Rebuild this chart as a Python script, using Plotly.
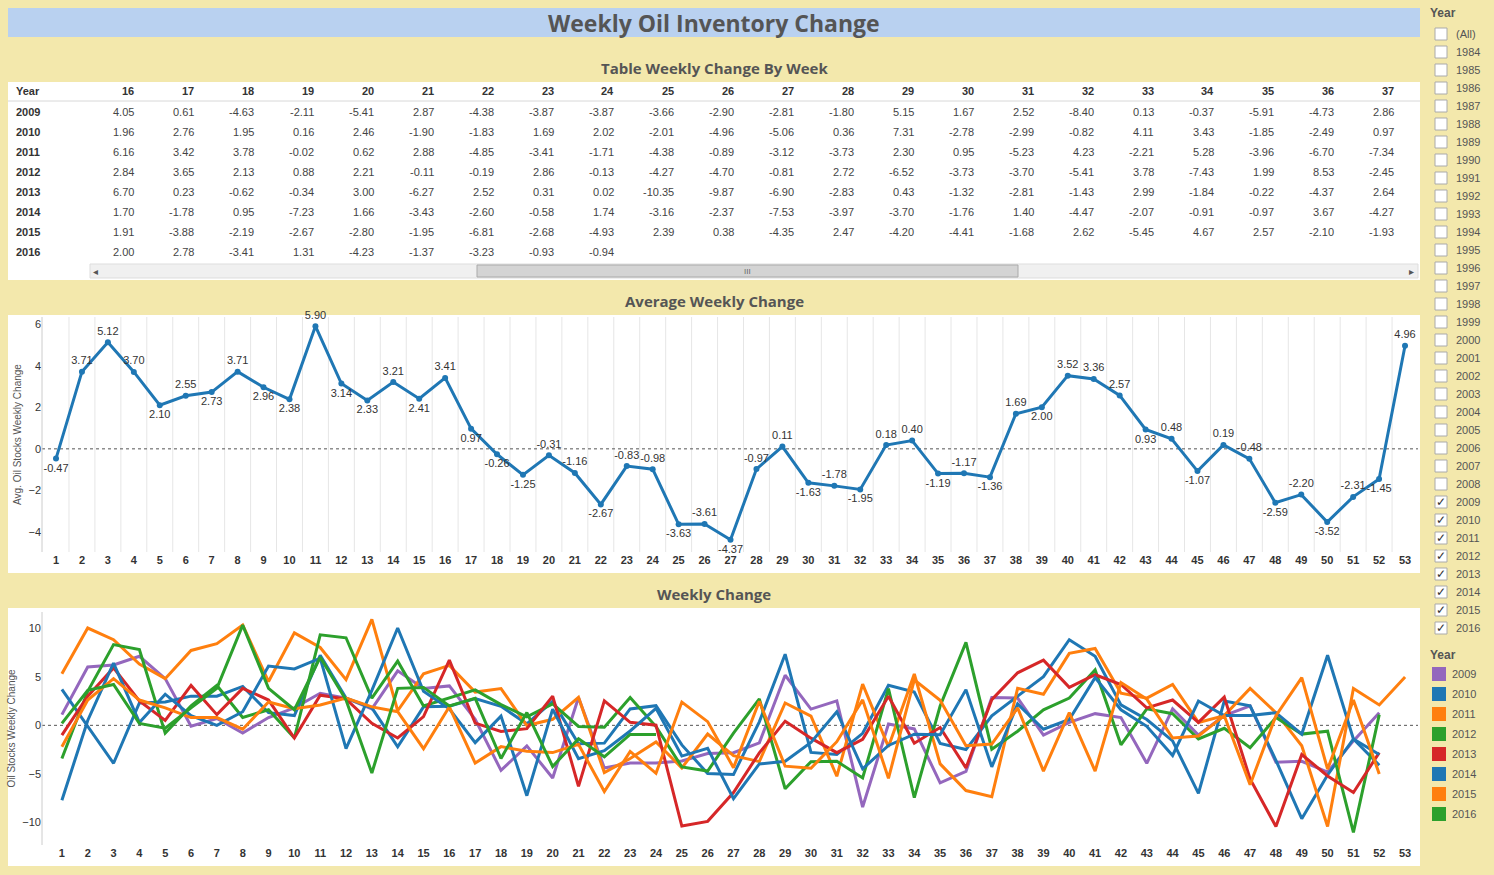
import plotly.graph_objects as go

W, H = 1494, 875
def px(x): return x / W
def py(y): return 1 - y / H

weeks = list(range(1, 54))
avg_change = [-0.47, 3.71, 5.12, 3.70, 2.10, 2.55, 2.73, 3.71, 2.96, 2.38, 5.90, 3.14, 2.33, 3.21, 2.41,
              3.41, 0.97, -0.26, -1.25, -0.31, -1.16, -2.67, -0.83, -0.98, -3.63, -3.61, -4.37, -0.97,
              0.11, -1.63, -1.78, -1.95, 0.18, 0.40, -1.19, -1.17, -1.36, 1.69, 2.00, 3.52, 3.36, 2.57,
              0.93, 0.48, -1.07, 0.19, -0.48, -2.59, -2.20, -3.52, -2.31, -1.45, 4.96]

years = ["2009", "2010", "2011", "2012", "2013", "2014", "2015", "2016"]
year_colors = ["#9467bd", "#1f77b4", "#ff7f0e", "#2ca02c", "#d62728", "#1f77b4", "#ff7f0e", "#2ca02c"]

table_weeks = list(range(16, 38))
table_rows = {
    "2009": [4.05, 0.61, -4.63, -2.11, -5.41, 2.87, -4.38, -3.87, -3.87, -3.66, -2.90, -2.81, -1.80, 5.15, 1.67, 2.52, -8.40, 0.13, -0.37, -5.91, -4.73, 2.86],
    "2010": [1.96, 2.76, 1.95, 0.16, 2.46, -1.90, -1.83, 1.69, 2.02, -2.01, -4.96, -5.06, 0.36, 7.31, -2.78, -2.99, -0.82, 4.11, 3.43, -1.85, -2.49, 0.97],
    "2011": [6.16, 3.42, 3.78, -0.02, 0.62, 2.88, -4.85, -3.41, -1.71, -4.38, -0.89, -3.12, -3.73, 2.30, 0.95, -5.23, 4.23, -2.21, 5.28, -3.96, -6.70, -7.34],
    "2012": [2.84, 3.65, 2.13, 0.88, 2.21, -0.11, -0.19, 2.86, -0.13, -4.27, -4.70, -0.81, 2.72, -6.52, -3.73, -3.70, -5.41, 3.78, -7.43, 1.99, 8.53, -2.45],
    "2013": [6.70, 0.23, -0.62, -0.34, 3.00, -6.27, 2.52, 0.31, 0.02, -10.35, -9.87, -6.90, -2.83, 0.43, -1.32, -2.81, -1.43, 2.99, -1.84, -0.22, -4.37, 2.64],
    "2014": [1.70, -1.78, 0.95, -7.23, 1.66, -3.43, -2.60, -0.58, 1.74, -3.16, -2.37, -7.53, -3.97, -3.70, -1.76, 1.40, -4.47, -2.07, -0.91, -0.97, 3.67, -4.27],
    "2015": [1.91, -3.88, -2.19, -2.67, -2.80, -1.95, -6.81, -2.68, -4.93, 2.39, 0.38, -4.35, 2.47, -4.20, -4.41, -1.68, 2.62, -5.45, 4.67, 2.57, -2.10, -1.93],
    "2016": [2.00, 2.78, -3.41, 1.31, -4.23, -1.37, -3.23, -0.93, -0.94],
}

# Weeks 1-15 estimates
early = {
    "2009": [1.1, 6.0, 6.2, 7.1, 4.8, -0.1, 0.7, -0.8, 0.8, 1.8, 3.3, 2.8, 1.7, 5.6, 3.8],
    "2010": [3.7, -0.1, -3.9, 2.3, 2.4, 3.0, 3.0, 4.0, 1.3, 1.0, 7.2, 2.8, 1.8, -2.2, 1.9],
    "2011": [5.3, 10.0, 8.8, 6.3, 4.8, 7.7, 8.4, 10.3, 4.5, 9.5, 8.0, 4.7, 10.9, 1.5, 5.3],
    "2012": [-3.4, 3.5, 8.3, 7.8, -0.8, 2.0, 4.1, 0.8, 1.6, -1.3, 9.3, 9.0, 2.8, 6.6, 2.0],
    "2013": [-1.0, 3.0, 5.9, 2.5, 0.5, 4.1, 1.1, 3.8, 2.6, -1.3, 3.1, 2.7, 0.2, -1.3, 0.9],
    "2014": [-7.7, 0.5, 6.4, 0.3, 3.2, 1.0, 0.0, 1.4, 6.1, 5.8, 6.9, -2.4, 3.6, 10.0, 3.5],
    "2015": [-2.2, 2.6, 4.8, 2.6, 1.8, 0.8, 0.8, -0.4, 2.4, 1.7, 2.1, 2.8, 1.9, 1.4, -2.4],
    "2016": [0.2, 3.6, 4.2, 0.2, -0.3, 1.8, 3.8, 10.3, 3.8, 1.6, 7.0, 2.6, -4.9, 3.8, 3.9],
}
# Weeks 38-53 estimates
late = {
    "2009": [2.8, -1.0, 0.3, 1.2, 0.8, -3.9, 1.7, -1.0, 1.0, 2.0, -3.8, -3.7, -4.8, -1.6, 1.3],
    "2010": [3.0, 5.0, 8.8, 7.1, 2.1, 0.6, -1.6, -7.0, 2.5, 2.0, -3.6, -9.6, -5.1, -1.4, -4.1],
    "2011": [3.8, 3.2, 7.4, 7.9, 3.3, 2.8, 4.2, 0.3, 1.0, 3.8, 1.3, -2.1, -10.4, 3.8, 2.1, 4.96],
    "2012": [-0.6, 1.6, 2.8, 5.7, -2.0, 1.7, 1.2, -1.4, -0.3, -2.3, 0.8, -0.9, -0.6, -11.0, 1.1],
    "2013": [5.4, 6.7, 3.9, 5.2, 4.2, 1.8, 2.6, 0.3, 2.9, -5.5, -10.4, -3.0, -5.2, -6.9, -2.8],
    "2014": [2.2, -0.4, 0.6, 4.9, 1.6, -0.1, -3.1, 2.5, 1.0, 1.0, 1.3, -0.9, 7.2, -1.4, -3.0],
    "2015": [1.8, -4.7, 1.3, -4.7, 4.4, 2.7, -1.3, -1.1, 1.0, -6.1, 1.0, 4.9, -4.5, 2.6, -5.0],
    "2016": [],
}

fig = go.Figure()

shapes = []
ann = []
def text(t, x, y, size, color="#555", xa="center", family=None):
    f = dict(size=size, color=color)
    if family:
        f["family"] = family
    ann.append(dict(text=t, x=px(x), y=py(y), xref="paper", yref="paper", showarrow=False,
                    xanchor=xa, yanchor="middle", font=f))

# ---- table (drawn as text cells) ----
TF = "Liberation Sans Narrow, Arial"
row_h = 20
hdr_y = 91
text("<b>Year</b>", 14, hdr_y, 11, "#333", xa="left", family=TF)
for i, w in enumerate(table_weeks):
    text(f"<b>{w}</b>", 136 + 60 * i, hdr_y, 11, "#333", xa="right", family=TF)
shapes.append(dict(type="line", xref="paper", yref="paper", x0=px(8), x1=px(1420), y0=py(101), y1=py(101),
                   line=dict(color="#d8d8d8", width=1)))
for k, y in enumerate(years):
    yc = 112 + row_h * k
    if k % 2 == 1:
        shapes.append(dict(type="rect", xref="paper", yref="paper", x0=px(8), x1=px(1420),
                           y0=py(yc + 10), y1=py(yc - 10), fillcolor="#f3f3f3", line_width=0, layer="below"))
    text(f"<b>{y}</b>", 14, yc, 11, "#333", xa="left", family=TF)
    for i, v in enumerate(table_rows[y]):
        text(f"{v:.2f}", 136 + 60 * i, yc, 11, "#444", xa="right", family=TF)

# ---- average chart ----
pos = []
for i, v in enumerate(avg_change):
    nb = [avg_change[j] for j in (i - 1, i + 1) if 0 <= j < len(avg_change)]
    pos.append("top center" if v >= sum(nb) / len(nb) else "bottom center")
fig.add_trace(go.Scatter(x=weeks, y=avg_change, mode="lines+markers+text", xaxis="x", yaxis="y",
                         line=dict(color="#1f77b4", width=3), marker=dict(size=6, color="#1f77b4"),
                         text=[f"{v:.2f}" for v in avg_change], textposition=pos,
                         textfont=dict(size=11, color="#333", family="Arial"), showlegend=False,
                         cliponaxis=False))

# ---- weekly change chart ----
for y, c in zip(years, year_colors):
    vals = list(early[y]) + list(table_rows[y])
    if y != "2016":
        vals += late[y]
    fig.add_trace(go.Scatter(x=weeks[:len(vals)], y=vals, mode="lines", xaxis="x2", yaxis="y2",
                             line=dict(color=c, width=3), showlegend=False))

axfont = dict(family="Arial", size=11, color="#333")
fig.update_layout(
    width=W, height=H, margin=dict(l=0, r=0, t=0, b=0),
    paper_bgcolor="#f3e8ac", plot_bgcolor="white", showlegend=False,
    font=dict(family="Arial"),
    xaxis=dict(domain=[px(42), px(1418)], anchor="y", range=[0.46, 53.5], tickmode="array",
               tickvals=weeks, ticktext=[f"<b>{w}</b>" for w in weeks], showgrid=False,
               tickfont=axfont, ticks="", zeroline=False, showline=False),
    yaxis=dict(domain=[py(552), py(317)], anchor="x", range=[-4.96, 6.34], dtick=2, showgrid=False,
               zeroline=False, tickfont=axfont, ticks="",
               title=dict(text="Avg. Oil Stocks Weekly Change", font=dict(size=10, color="#555"), standoff=4)),
    xaxis2=dict(domain=[px(42), px(1418)], anchor="y2", range=[0.23, 53.5], tickmode="array",
                tickvals=weeks, ticktext=[f"<b>{w}</b>" for w in weeks], showgrid=False,
                tickfont=axfont, ticks="", zeroline=False),
    yaxis2=dict(domain=[py(845), py(612)], anchor="x2", range=[-12.3, 11.65], dtick=5, showgrid=False,
                zeroline=False, tickfont=axfont, ticks="",
                title=dict(text="Oil Stocks Weekly Change", font=dict(size=10, color="#555"), standoff=4)),
)

shapes.append(dict(type="rect", xref="paper", yref="paper", x0=px(8), x1=px(1420), y0=py(37), y1=py(8),
                   fillcolor="#b9d1f0", line_width=0, layer="below"))
text("<b>Weekly Oil Inventory Change</b>", 714, 23, 23, family="Open Sans")
for t, yy in [("Table Weekly Change By Week", 68), ("Average Weekly Change", 301), ("Weekly Change", 594)]:
    text(f"<b>{t}</b>", 714, yy, 15, family="Open Sans")
for y0, y1 in [(82, 280), (315, 573), (608, 866)]:
    shapes.append(dict(type="rect", xref="paper", yref="paper", x0=px(8), x1=px(1420), y0=py(y1), y1=py(y0),
                       fillcolor="white", line_width=0, layer="below"))
# scrollbar
shapes.append(dict(type="rect", xref="paper", yref="paper", x0=px(90), x1=px(1418), y0=py(278), y1=py(264),
                   fillcolor="#f0f0f0", line=dict(color="#ddd", width=1)))
shapes.append(dict(type="rect", xref="paper", yref="paper", x0=px(477), x1=px(1018), y0=py(277), y1=py(265),
                   fillcolor="#d4d4d4", line=dict(color="#aaa", width=1)))
text("◂", 96, 271, 10)
text("▸", 1411, 271, 10)
text("III", 747, 271, 8, "#666")
for w in weeks[:-1]:
    shapes.append(dict(type="line", xref="x", yref="paper", x0=w + 0.5, x1=w + 0.5, y0=py(552), y1=py(317),
                       line=dict(color="#e6e6e6", width=1), layer="below"))
for ya in ["y", "y2"]:
    shapes.append(dict(type="line", xref="paper", yref=ya, x0=px(42), x1=px(1418), y0=0, y1=0,
                       line=dict(color="#555", width=1, dash="dot"), layer="below"))
for y0, y1 in [(317, 552), (612, 845)]:
    shapes.append(dict(type="line", xref="paper", yref="paper", x0=px(42), x1=px(42), y0=py(y1), y1=py(y0),
                       line=dict(color="#ccc", width=1)))

# filter list
filter_years = ["(All)"] + [str(y) for y in range(1984, 2017)]
text("<b>Year</b>", 1428, 13, 12, xa="left")
for i, fy in enumerate(filter_years):
    yc = 34 + 18 * i
    shapes.append(dict(type="rect", xref="paper", yref="paper", x0=px(1435), x1=px(1447), y0=py(yc + 6), y1=py(yc - 6),
                       fillcolor="white", line=dict(color="#aaa", width=1)))
    if fy in years:
        text("✓", 1441, yc, 12, "#333")
    text(fy, 1454, yc, 11, xa="left")
# color legend
text("<b>Year</b>", 1428, 655, 12, xa="left")
for i, (y, c) in enumerate(zip(years, year_colors)):
    yc = 674 + 20 * i
    shapes.append(dict(type="rect", xref="paper", yref="paper", x0=px(1432), x1=px(1446), y0=py(yc + 7), y1=py(yc - 7),
                       fillcolor=c, line_width=0))
    text(y, 1450, yc, 11, xa="left")

fig.update_layout(shapes=shapes, annotations=ann)
fig.write_html("out.html", config={"displayModeBar": False})
with open("out.html", encoding="utf-8") as f:
    html = f.read()
html = html.replace("<head>", "<head><style>html,body{margin:0;padding:0;overflow:hidden}</style>", 1)
with open("out.html", "w", encoding="utf-8") as f:
    f.write(html)
